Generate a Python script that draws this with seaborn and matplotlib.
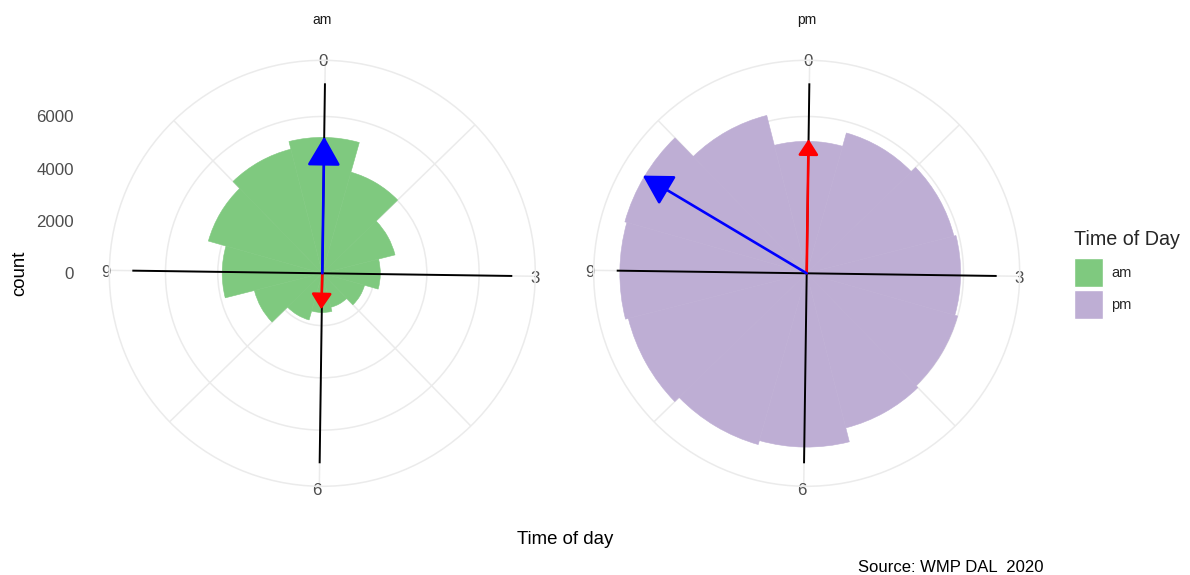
import numpy as np
import matplotlib
matplotlib.use("Agg")
import matplotlib.pyplot as plt
from matplotlib.patches import Patch
from matplotlib.ticker import FixedLocator
from matplotlib.transforms import ScaledTranslation
import seaborn as sns

# hourly counts (bins centred on each hour of the 12-hour clock)
hours = [0, 1, 2, 3, 4, 5, 6, 7, 8, 9, 10, 11]
am_counts = [5200, 4020, 2870, 2220, 1680, 1340, 1500, 1855, 2680, 3830, 4530, 4900]
pm_counts = [5050, 5580, 5810, 5890, 6000, 6100, 6650, 6810, 7040, 7150, 7230, 6230]

# reference axes drawn through the centre
axis_hours = [0, 3, 6, 9]
axis_labels = ["0", "3", "6", "9"]
axis_len = 7270

# summary arrows: (hour, length)
am_blue = (0.0, 5230)
am_red = (6.03, 1380)
pm_blue = (10.0, 7300)
pm_red = (0.0, 5130)

count_ticks = [0, 2000, 4000, 6000]
r_max = 8150

sns.set_theme(style="white")
plt.rcParams["font.family"] = ["Liberation Sans", "DejaVu Sans"]
pal = sns.color_palette("Accent")
colors = {"am": pal[0], "pm": pal[1]}

W, H = 1190, 575
R = 213
CY = 273.3


def pos(cx):
    return [(cx - R) / W, 1 - (CY + R) / H, 2 * R / W, 2 * R / H]


def rad(h):
    return np.asarray(h, dtype=float) * 2 * np.pi / 12


fig = plt.figure(figsize=(W / 100, H / 100), dpi=100)
fig.patch.set_facecolor("white")

grid_col = "#EBEBEB"
panels = [("am", 322.3, am_counts, am_blue, am_red),
          ("pm", 806.7, pm_counts, pm_blue, pm_red)]

for name, cx, counts, blue, red in panels:
    ax = fig.add_axes(pos(cx), projection="polar")
    ax.set_theta_zero_location("N", offset=-0.8)
    ax.set_theta_direction(-1)
    ax.set_facecolor("white")

    ax.bar(rad(hours), counts, width=2 * np.pi / 12, align="center",
           color=colors[name], edgecolor=colors[name], linewidth=0.4, zorder=2)

    ax.set_ylim(0, r_max)
    ax.set_xticks(rad(axis_hours))
    ax.set_xticklabels(axis_labels)
    ax.xaxis.set_minor_locator(FixedLocator(rad([1.5, 4.5, 7.5, 10.5])))
    ax.set_yticks(count_ticks[1:])
    ax.set_yticklabels([])
    ax.grid(True, which="both", axis="x", color=grid_col, lw=1.1)
    ax.grid(True, which="major", axis="y", color=grid_col, lw=1.1)
    ax.spines["polar"].set_color(grid_col)
    ax.spines["polar"].set_linewidth(1.1)
    ax.set_axisbelow(True)
    ax.tick_params(axis="x", which="both", length=0, pad=-6,
                   labelsize=12.2, labelcolor="#4D4D4D")
    shift = ScaledTranslation(-2 / 100, -2.5 / 100, fig.dpi_scale_trans)
    for t in ax.get_xticklabels():
        t.set_transform(t.get_transform() + shift)

    for h in axis_hours:
        ax.plot([rad(h), rad(h)], [0, axis_len], color="black", lw=1.4,
                solid_capstyle="butt", zorder=4)

    for (h, r), col, hl, hw in [(red, "#FF0000", 0.94, 0.61),
                                (blue, "#0000FF", 1.8, 1.04)]:
        ax.annotate("", xy=(rad(h), r), xytext=(0, 0),
                    arrowprops=dict(arrowstyle=f"-|>,head_length={hl},head_width={hw}",
                                    color=col, lw=1.9, shrinkA=0, shrinkB=0,
                                    mutation_scale=10),
                    zorder=5)

    ax.text(0.5, (CY + R - 20) / (2 * R), name, transform=ax.transAxes,
            ha="center", va="center", fontsize=10, color="#1A1A1A")

# radial count labels on the left panel
lab = fig.add_axes(pos(322.3))
lab.set_ylim(-r_max, r_max)
lab.set_xlim(0, 1)
lab.patch.set_visible(False)
for s in lab.spines.values():
    s.set_visible(False)
lab.set_xticks([])
lab.set_yticks(count_ticks)
lab.set_yticklabels([str(t) for t in count_ticks])
lab.tick_params(axis="y", length=0, pad=25.4, labelsize=12.2, labelcolor="#4D4D4D")

fig.text(20 / W, 1 - CY / H, "count", rotation=90, ha="center", va="center",
         fontsize=13.4, color="black")
fig.text(565 / W, 1 - 540 / H, "Time of day", ha="center", va="center",
         fontsize=13.4, color="black")
fig.text(1043 / W, 1 - 567 / H, "Source: WMP DAL  2020", ha="right", va="center",
         fontsize=12, color="black")

handles = [Patch(facecolor=colors["am"], label="am"),
           Patch(facecolor=colors["pm"], label="pm")]
leg = fig.legend(handles=handles, title="Time of Day", loc="upper left",
                 bbox_to_anchor=(1074 / W, 1 - 230 / H), frameon=False,
                 fontsize=10.5, title_fontsize=14.2, handlelength=1.99, handleheight=2.685,
                 labelspacing=0.206, handletextpad=0.55, borderpad=0, borderaxespad=0,
                 alignment="left")
leg._legend_box.sep = 6.5

fig.savefig("out.png", dpi=100)
